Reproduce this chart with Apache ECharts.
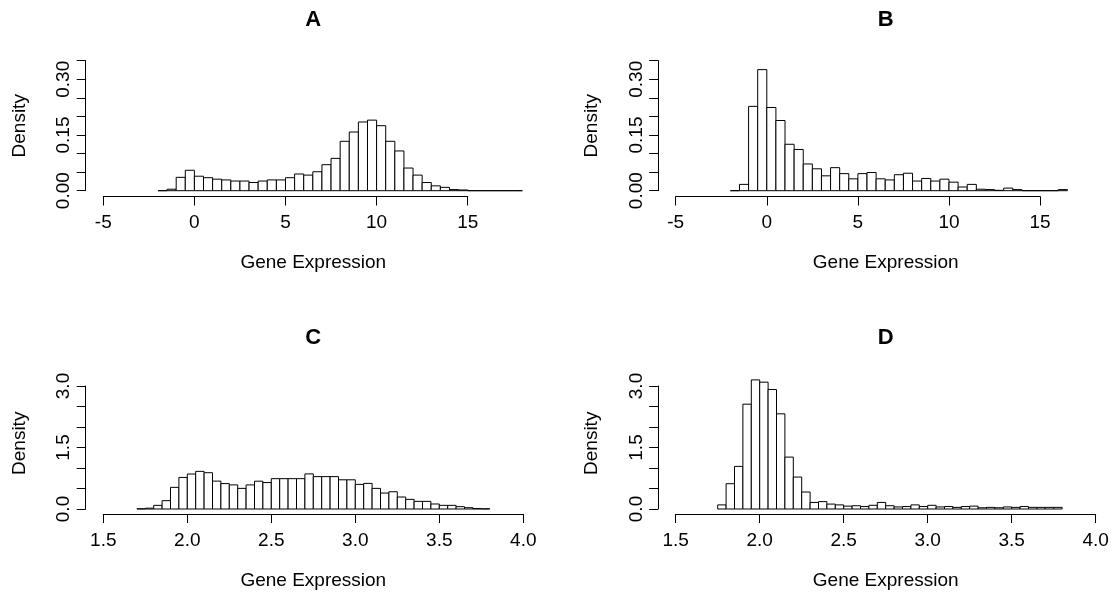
<!DOCTYPE html>
<html><head><meta charset="utf-8">
<script src="https://cdn.jsdelivr.net/npm/echarts@6/dist/echarts.min.js"></script>
<style>html,body{margin:0;padding:0;background:#fff}#c{width:1115px;height:598px}</style>
</head><body><div id="c"></div>
<script>
// ---------- data ----------
const panelTitles = ['A', 'B', 'C', 'D'];
const xAxisTitle = 'Gene Expression';
const yAxisTitle = 'Density';

// Panel A: histogram breaks start at -2, width 0.5
const aBinStart = -2, aBinWidth = 0.5;
const aDensity = [0.000, 0.004, 0.036, 0.055, 0.039, 0.035, 0.031, 0.029, 0.026, 0.026,
  0.022, 0.026, 0.029, 0.029, 0.035, 0.045, 0.042, 0.051, 0.070, 0.087,
  0.133, 0.158, 0.185, 0.190, 0.175, 0.133, 0.107, 0.061, 0.042, 0.022,
  0.013, 0.009, 0.003, 0.002, 0.000, 0.000, 0.000, 0.000, 0.000, 0.000];

// Panel B
const bBinStart = -2, bBinWidth = 0.5;
const bDensity = [0.000, 0.017, 0.227, 0.326, 0.224, 0.189, 0.125, 0.111, 0.072, 0.059,
  0.040, 0.062, 0.046, 0.032, 0.046, 0.049, 0.032, 0.029, 0.043, 0.047,
  0.026, 0.033, 0.026, 0.031, 0.023, 0.010, 0.017, 0.004, 0.003, 0.001,
  0.007, 0.003, 0.000, 0.000, 0.000, 0.000, 0.003];

// Panel C: breaks start at 1.70, width 0.05
const cBinStart = 1.70, cBinWidth = 0.05;
const cDensity = [0.005, 0.020, 0.089, 0.203, 0.528, 0.770, 0.853, 0.918, 0.885, 0.680,
  0.620, 0.588, 0.503, 0.588, 0.678, 0.645, 0.740, 0.740, 0.740, 0.740,
  0.856, 0.790, 0.790, 0.790, 0.712, 0.712, 0.600, 0.625, 0.503, 0.389,
  0.421, 0.292, 0.235, 0.186, 0.186, 0.122, 0.089, 0.089, 0.057, 0.032,
  0.010, 0.005];

// Panel D: breaks start at 1.75, width 0.05
const dBinStart = 1.75, dBinWidth = 0.05;
const dDensity = [0.100, 0.617, 1.039, 2.557, 3.149, 3.093, 2.914, 2.321, 1.266, 0.779,
  0.414, 0.160, 0.180, 0.120, 0.100, 0.070, 0.080, 0.060, 0.090, 0.160,
  0.080, 0.050, 0.060, 0.100, 0.060, 0.090, 0.050, 0.060, 0.040, 0.060,
  0.070, 0.030, 0.040, 0.030, 0.050, 0.040, 0.060, 0.040, 0.040, 0.040,
  0.040];

// tick values
const topXTicks = [-5, 0, 5, 10, 15];
const topXDataMax = 18;
const bottomXTicks = [1.5, 2.0, 2.5, 3.0, 3.5, 4.0];
const topYTicks = [0, 0.05, 0.10, 0.15, 0.20, 0.25, 0.30, 0.35];
const topYLabels = ['0.00', '0.15', '0.30'];
const bottomYTicks = [0, 0.5, 1.0, 1.5, 2.0, 2.5, 3.0];
const bottomYLabels = ['0.0', '1.5', '3.0'];

// ---------- layout ----------
const FONT = 'Liberation Sans, Arial, Helvetica, sans-serif';
const FS = 19;
const colLeft = [103.3, 675.7];             // pixel of first x tick
const rowYTop = [60.7, 386];                 // pixel of top y tick
const rowYBottom = [190.7, 509];             // pixel of y = 0
const rowAxisOffset = [5.8, 5.0];            // x-axis line below y=0
const yAxisOffset = 17.6;
const pxPerUnit = [18.22, 168];

function bins(start, width, dens) {
  return dens.map((d, i) => [start + i * width, start + (i + 1) * width, d]);
}
const panelBins = [
  bins(aBinStart, aBinWidth, aDensity),
  bins(bBinStart, bBinWidth, bDensity),
  bins(cBinStart, cBinWidth, cDensity),
  bins(dBinStart, dBinWidth, dDensity)
];

const grids = [], xAxes = [], yAxes = [], series = [], graphics = [];

for (let p = 0; p < 4; p++) {
  const row = p < 2 ? 0 : 1, col = p % 2;
  const xt = row === 0 ? topXTicks : bottomXTicks;
  const yt = row === 0 ? topYTicks : bottomYTicks;
  const yl = row === 0 ? topYLabels : bottomYLabels;
  const dec = row === 0 ? 2 : 1;
  const xMin = xt[0], xMaxAxis = xt[xt.length - 1];
  const xMaxData = row === 0 ? topXDataMax : xMaxAxis;
  const ppu = pxPerUnit[row];
  const L = colLeft[col];
  const T = rowYTop[row], B = rowYBottom[row];
  const H = B - T;

  // data grid
  const gData = grids.length;
  grids.push({ left: L, top: T, width: (xMaxData - xMin) * ppu, height: H });
  xAxes.push({ gridIndex: gData, type: 'value', min: xMin, max: xMaxData, show: false });
  yAxes.push({
    gridIndex: gData, type: 'value', min: yt[0], max: yt[yt.length - 1], interval: yt[1] - yt[0],
    offset: yAxisOffset, position: 'left',
    axisLine: { show: true, onZero: false, lineStyle: { color: '#000', width: 1 } },
    axisTick: { show: true, length: 9, lineStyle: { color: '#000', width: 1 } },
    splitLine: { show: false },
    axisLabel: {
      rotate: 90, margin: 12, color: '#000', fontFamily: FONT, fontSize: FS,
      formatter: v => { const s = v.toFixed(dec); return yl.indexOf(s) >= 0 ? s : ''; }
    }
  });
  // axis grid (x axis only spans the ticks)
  const gAx = grids.length;
  grids.push({ left: L, top: T, width: (xMaxAxis - xMin) * ppu, height: H });
  xAxes.push({
    gridIndex: gAx, type: 'value', min: xMin, max: xMaxAxis, interval: xt[1] - xt[0],
    position: 'bottom', offset: rowAxisOffset[row],
    axisLine: { show: true, onZero: false, lineStyle: { color: '#000', width: 1 } },
    axisTick: { show: true, length: 9, lineStyle: { color: '#000', width: 1 } },
    splitLine: { show: false },
    axisLabel: {
      margin: 17, color: '#000', fontFamily: FONT, fontSize: FS,
      formatter: v => row === 0 ? String(Math.round(v)) : v.toFixed(1)
    }
  });
  yAxes.push({ gridIndex: gAx, type: 'value', min: yt[0], max: yt[yt.length - 1], show: false });

  series.push({
    type: 'custom', xAxisIndex: gData, yAxisIndex: gData, clip: false,
    data: panelBins[p],
    renderItem: (params, api) => {
      const p0 = api.coord([api.value(0), 0]);
      const p1 = api.coord([api.value(1), api.value(2)]);
      return {
        type: 'rect',
        shape: { x: p0[0], y: p1[1], width: p1[0] - p0[0], height: p0[1] - p1[1] },
        style: { fill: '#fff', stroke: '#000', lineWidth: 1 }
      };
    },
    silent: true, animation: false
  });

  const cx = L + 210;
  const rowShift = row === 0 ? 0 : 317.5;
  graphics.push({
    type: 'text', x: cx, y: 20 + rowShift,
    style: { text: panelTitles[p], font: 'bold 22px ' + FONT, fill: '#000', textAlign: 'center', textVerticalAlign: 'middle' }
  });
  graphics.push({
    type: 'text', x: cx, y: 263 + rowShift,
    style: { text: xAxisTitle, font: FS + 'px ' + FONT, fill: '#000', textAlign: 'center', textVerticalAlign: 'middle' }
  });
  graphics.push({
    type: 'text', x: L - 83.7, y: 125.8 + rowShift, rotation: Math.PI / 2,
    style: { text: yAxisTitle, font: FS + 'px ' + FONT, fill: '#000', textAlign: 'center', textVerticalAlign: 'middle' }
  });
}

const chart = echarts.init(document.getElementById('c'), null, { renderer: 'canvas' });
chart.setOption({
  backgroundColor: '#fff',
  animation: false,
  grid: grids, xAxis: xAxes, yAxis: yAxes, series: series,
  graphic: graphics
});
</script></body></html>
